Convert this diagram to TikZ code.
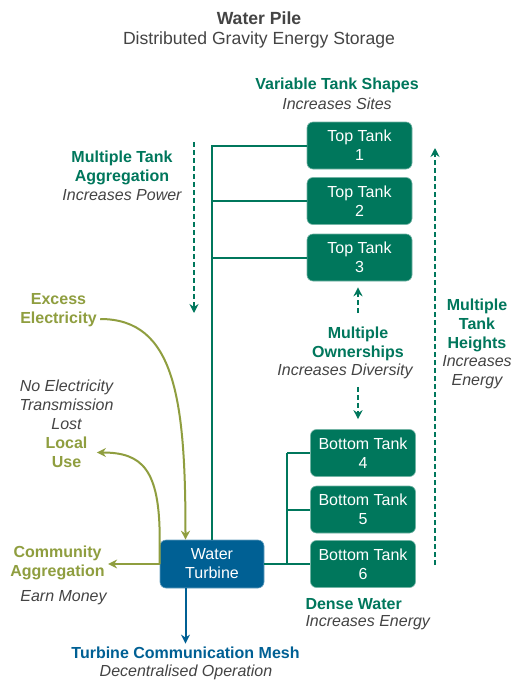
\documentclass[tikz,border=0pt]{standalone}
\usepackage{fontspec}
\setmainfont{Liberation Sans}
\usetikzlibrary{arrows.meta}
\definecolor{tankgreen}{HTML}{00775C}
\definecolor{turbineblue}{HTML}{006094}
\definecolor{elecolive}{HTML}{8F9E3F}
\definecolor{notegray}{HTML}{444444}

\begin{document}
\begin{tikzpicture}[x=1pt,y=-1pt,
    every node/.style={font=\fontsize{16}{19}\selectfont, align=center, inner sep=3.3pt},
    tank/.style={fill=tankgreen, draw=tankgreen!55!white, line width=0.6pt, rounded corners=6pt,
        text=white, minimum width=105pt, minimum height=47pt},
    turbinebox/.style={fill=turbineblue, draw=turbineblue!60!white, line width=0.6pt, rounded corners=6pt,
        text=white, minimum width=104pt, minimum height=48pt},
    pipe/.style={draw=tankgreen, line width=2pt},
    flow/.style={draw=tankgreen, line width=2pt, dash pattern=on 5pt off 3pt, -{Stealth[length=9pt,width=9pt]}},
    elec/.style={draw=elecolive, line width=2pt, -{Stealth[length=9pt,width=9pt]}},
    greenhead/.style={text=tankgreen, font=\fontsize{16}{19}\selectfont\bfseries},
    olivehead/.style={text=elecolive, font=\fontsize{16}{19}\selectfont\bfseries},
    bluehead/.style={text=turbineblue, font=\fontsize{16}{19}\selectfont\bfseries},
    desc/.style={text=notegray, font=\fontsize{16}{19}\selectfont\itshape}]

    \path[use as bounding box, fill=white] (0,0) rectangle (518,686);

    % title
    \node[text=notegray, font=\fontsize{17.6}{21}\selectfont\bfseries] (title) at (259,18) {Water Pile};
    \node[text=notegray, font=\fontsize{17.6}{21}\selectfont] (subtitle) at (259,40) {Distributed Gravity Energy Storage};

    % tanks and turbine
    \foreach \i/\y in {1/145.5,2/201,3/257.5}
        \node[tank] (top\i) at (359.5,\y) {Top Tank\\\i};
    \foreach \i/\y in {4/453,5/509.5,6/564}
        \node[tank] (bot\i) at (363,\y) {Bottom Tank\\\i};
    \node[turbinebox] (turbine) at (212,564) {Water\\Turbine};

    % labels
    \node[greenhead] (shapes) at (337,85) {Variable Tank Shapes};
    \node[desc] (shapesdesc) at (337,104) {Increases Sites};
    \node[greenhead] (agg) at (122,167.5) {Multiple Tank\\Aggregation};
    \node[desc] (aggdesc) at (122,195) {Increases Power};
    \node[greenhead] (heights) at (477,325) {Multiple\\Tank\\Heights};
    \node[desc] (heightsdesc) at (477,372.5) {Increases\\Energy};
    \node[greenhead] (own) at (358,343.5) {Multiple\\Ownerships};
    \node[desc] (owndesc) at (345,371) {Increases Diversity};
    \node[greenhead, anchor=west] (dense) at (302,604) {Dense Water};
    \node[desc, anchor=west] (densedesc) at (302,623) {Increases Energy};
    \node[olivehead] (excess) at (58.5,310) {Excess\\Electricity};
    \node[desc] (lost) at (66.5,404.5) {No Electricity\\Transmission\\Lost};
    \node[olivehead] (local) at (66.5,452.5) {Local\\Use};
    \node[olivehead] (community) at (57.5,563) {Community\\Aggregation};
    \node[desc] (money) at (63.5,598) {Earn Money};
    \node[bluehead] (mesh) at (185.5,653) {Turbine Communication Mesh};
    \node[desc] (meshdesc) at (186,672) {Decentralised Operation};

    % pipes
    \draw[pipe] (turbine.north) -- (turbine.north |- top1.west) -- (top1.west);
    \foreach \i in {2,3}
        \draw[pipe] (turbine.north |- top\i.west) -- (top\i.west);
    \coordinate (split) at (287,509);
    \draw[pipe] (turbine.east) -- (bot6.west);
    \draw[pipe] (split |- bot4.west) -- (split |- bot6.west);
    \foreach \i in {4,5}
        \draw[pipe] (split |- bot\i.west) -- (bot\i.west);

    % dashed arrows
    \coordinate (aggtop) at (194,142);
    \coordinate (aggbot) at (194,313);
    \coordinate (hbot) at (435,565);
    \coordinate (htop) at (435,148);
    \draw[flow] (aggtop) -- (aggbot);
    \draw[flow] (hbot) -- (htop);
    \draw[flow, shorten <=10pt, shorten >=6pt] (own.north) -- (own.north |- top3.south);
    \draw[flow, shorten <=5pt, shorten >=10pt] (own.north |- owndesc.south) -- (own.north |- bot4.north);

    % electricity
    \draw[elec] ([yshift=-9pt]excess.east) .. controls +(75,0) and +(0,-140) .. (mesh.north |- turbine.north);
    \draw[elec] (turbine.west) -- ++(0,-25) .. controls +(0,-70) and +(45,0) .. ([xshift=6pt]local.east);
    \draw[elec] (turbine.west) -- (turbine.west -| community.east);
    \draw[-{Stealth[length=9pt,width=9pt]}, draw=turbineblue, line width=2pt] (mesh.north |- turbine.south) -- (mesh.north);
\end{tikzpicture}
\end{document}
